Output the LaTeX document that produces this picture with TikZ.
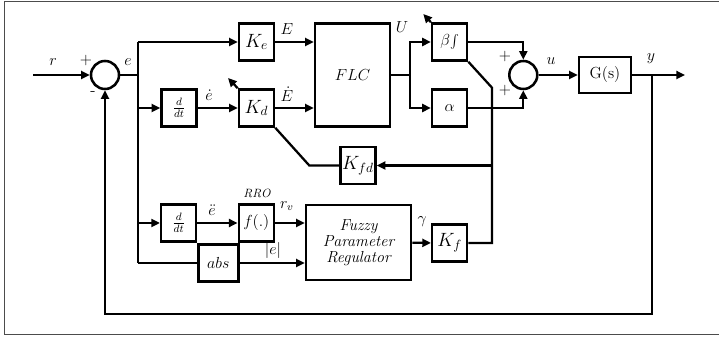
\documentclass[tikz,border=0pt]{standalone}
\usetikzlibrary{arrows.meta,calc}
\begin{document}
\begin{tikzpicture}[x=0.75pt,y=-0.75pt,
  blk/.style={draw, line width=1.9pt, fill=white, inner sep=0pt, minimum width=26.25pt, minimum height=27.75pt, font=\fontsize{12}{14}\selectfont},
  kblk/.style={blk, font=\fontsize{14.4}{16}\selectfont},
  sumc/.style={draw, circle, line width=1.9pt, minimum size=21pt, inner sep=0pt},
  wire/.style={line width=1.7pt},
  arr/.style={wire, -{Triangle[length=6.5pt,width=6pt]}},
  lbl/.style={font=\fontsize{12}{14}\selectfont, inner sep=0pt},
  frame/.style={draw=black!70, line width=1.1pt}
]
\useasboundingbox (0,0) rectangle (719,338);
\draw[frame] (719,1.5) -- (4.5,1.5) -- (4.5,334.5) -- (719,334.5);

% blocks
\node[sumc] (s1) at (105,75) {};
\node[kblk] (ke) at (256.5,42) {$K_e$};
\node[blk, minimum width=56.25pt, minimum height=77.25pt] (flc) at (352.5,75) {$FLC$};
\node[blk] (dd1) at (179,108) {$\frac{d}{dt}$};
\node[kblk] (kd) at (256.5,108) {$K_d$};
\node[blk] (beta) at (449.6,42) {$\beta\!\int$};
\node[blk] (alpha) at (449.6,108) {$\alpha$};
\node[sumc] (s2) at (523.3,75) {};
\node[blk, minimum width=39pt, minimum height=27pt] (g) at (605,75) {G(s)};
\node[kblk] (kfd) at (358,165.5) {$K_{fd}$};
\node[blk] (dd2) at (178.7,223) {$\frac{d}{dt}$};
\node[blk] (f) at (256.3,223) {$f(.)$};
\node[blk, minimum width=78.75pt, minimum height=56.25pt, align=center, font=\itshape\fontsize{12}{11.8}\selectfont] (fpr) at (358.5,242.5) {Fuzzy\\Parameter\\Regulator};
\node[kblk] (kf) at (449.7,243) {$K_f$};
\node[blk, minimum width=30pt] (abs) at (218.3,263) {$abs$};

% coordinates
\coordinate (rin) at (33,75);
\coordinate (b1) at (138,75);
\coordinate (b2) at (410,75);
\coordinate (b3) at (652,75);
\coordinate (yout) at (685,75);
\coordinate (fbc) at (652,314);
\coordinate (j) at (492,87.7);
\coordinate (btip) at (423.3,14);
\coordinate (kfdin) at (492,165.5);
\coordinate (kc) at (309.3,165.5);
\coordinate (ktip) at (228,78);

% wires
\draw[arr] (rin) -- (s1);
\draw[wire] (s1) -- (b1);
\draw[wire] (b1 |- ke) -- (b1 |- abs);
\draw[arr] (b1 |- ke) -- (ke);
\draw[arr] (ke) -- (flc.west |- ke);
\draw[arr] (b1 |- dd1) -- (dd1);
\draw[arr] (dd1) -- (kd);
\draw[arr] (kd) -- (flc.west |- kd);
\draw[wire] (flc) -- (b2);
\draw[arr] (b2) |- (beta);
\draw[arr] (b2) |- (alpha);
\draw[arr] (beta) -| (s2);
\draw[arr] (alpha) -| (s2);
\draw[arr] (s2) -- (g);
\draw[arr] (g) -- (yout);
\draw[arr] (b3) -- (fbc) -| (s1);
\draw[arr] (b1 |- dd2) -- (dd2);
\draw[arr] (dd2) -- (f);
\draw[arr] (f) -- (fpr.west |- f);
\draw[wire] (b1 |- abs) -- (abs);
\draw[arr] (abs) -- (fpr.west |- abs);
\draw[arr] (fpr) -- (kf);
\draw[wire] (kf) -| (j) -- (beta.south east);
\draw[arr] (beta.north west) -- (btip);
\draw[arr] (kfdin) -- (kfd);
\draw[wire] (kfd) -- (kc) -- (kd.south east);
\draw[arr] (kd.north west) -- (ktip);

% labels
\node[lbl] (lr) at (53,62) {$r$};
\node[lbl] (lp1) at (86,61) {$+$};
\node[lbl] (le) at (128,62) {$e$};
\node[lbl] (lm1) at (93,94) {-};
\node[lbl] (lE) at (287,29) {$E$};
\node[lbl] (led) at (209,95) {$\dot e$};
\node[lbl] (lEd) at (287,94) {$\dot E$};
\node[lbl] (lU) at (402,27) {$U$};
\node[lbl] (lp2) at (505,57) {$+$};
\node[lbl] (lp3) at (505,91) {$+$};
\node[lbl] (lu) at (551,61) {$u$};
\node[lbl] (ly) at (651,59) {$y$};
\node[lbl, font=\itshape\fontsize{9}{11}\selectfont] (lrro) at (257,193) {RRO};
\node[lbl] (ledd) at (212,210) {$\ddot e$};
\node[lbl] (lrv) at (287,206) {$r_v$};
\node[lbl] (labse) at (273,251) {$|e|$};
\node[lbl] (lg) at (422,222) {$\gamma$};
\end{tikzpicture}
\end{document}
